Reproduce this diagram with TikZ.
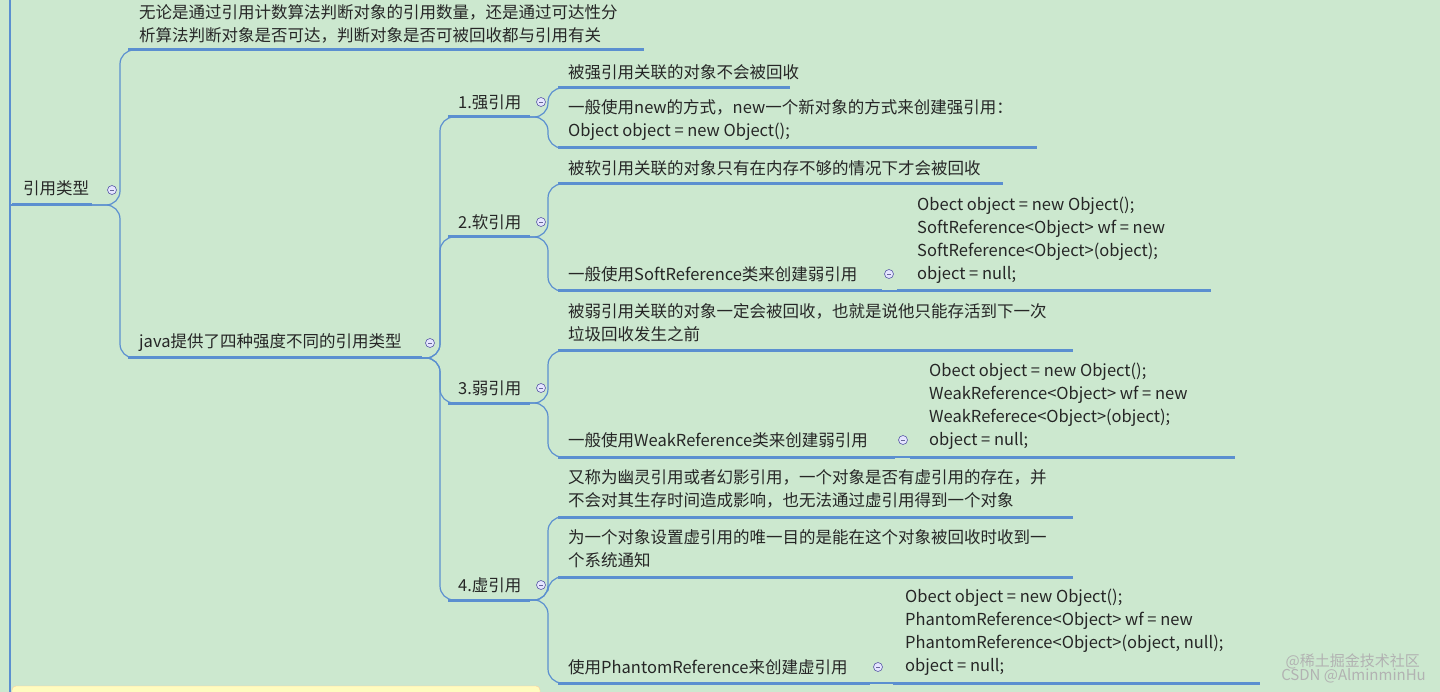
\documentclass[tikz,border=0pt]{standalone}
\usepackage{fontspec}
\setmainfont{Noto Sans CJK SC}
\begin{document}
\begin{tikzpicture}[x=1pt,y=-1pt,
  txt/.style={anchor=west,inner sep=0pt,font=\fontsize{16.5}{23}\selectfont,text=black!85},
  ul/.style={draw=lineblue,line width=3pt},
  br/.style={draw=lineblue,line width=1.2pt,rounded corners=14pt},
  tog/.style={circle,draw=gray!70!blue,fill=white!90!blue,minimum size=9pt,inner sep=0pt,line width=0.6pt,
    path picture={\draw[gray!80!blue,line width=0.6pt] ([xshift=-2pt]path picture bounding box.center)--([xshift=2pt]path picture bounding box.center);}}]
\definecolor{bg}{HTML}{CCE8CF}
\definecolor{lineblue}{HTML}{5B8FD0}
\fill[bg] (0,0) rectangle (1440,692);
\useasboundingbox (0,0) rectangle (1440,692);
\fill[yellow!25,draw=orange!40,rounded corners=4pt] (12,686) rectangle (540,700);
\draw[lineblue,line width=1.2pt] (10,0) -- (10,692);
% helper: bracket
\newcommand{\brk}[5]{\draw[br] (#1,#2) -- (#3,#2) -- (#3,#4) -- (#5,#4);}
% root
\node[txt] (root) at (23,188) {引用类型};
\draw[ul] (12,205) -- (92,205);
\draw[lineblue,line width=1.2pt] (10,215) -- (10,205) -- (12,205);
\node[tog] (t0) at (112,190) {};
\brk{92}{205}{120}{50}{128}
\brk{92}{205}{120}{358}{128}
% level1
\node[txt,align=left] (a1) at (139,24) {无论是通过引用计数算法判断对象的引用数量，还是通过可达性分\\析算法判断对象是否可达，判断对象是否可被回收都与引用有关};
\draw[ul] (128,50) -- (644,50);
\node[txt] (a2) at (139,343) {java提供了四种强度不同的引用类型};
\draw[ul] (128,358) -- (422,358);
\node[tog] (t1) at (430,343) {};
\brk{422}{358}{440}{117}{448}
\brk{422}{358}{440}{237}{448}
\brk{422}{358}{440}{403}{448}
\brk{422}{358}{440}{600}{448}
% level2
\foreach \t/\y in {1.强引用/117,2.软引用/237,3.弱引用/403,4.虚引用/600}{
  \node[txt] at (458,\y-15) {\t};
  \draw[ul] (448,\y) -- (530,\y);
  \node[tog] at (541,\y-15) {};
}
\brk{530}{117}{548}{88}{558}
\brk{530}{117}{548}{148}{558}
\brk{530}{237}{548}{184}{558}
\brk{530}{237}{548}{291}{558}
\brk{530}{403}{548}{351}{558}
\brk{530}{403}{548}{457}{558}
\brk{530}{600}{548}{517}{558}
\brk{530}{600}{548}{577}{558}
\brk{530}{600}{548}{683}{558}
% strong
\node[txt] (s1) at (568,72) {被强引用关联的对象不会被回收};
\draw[ul] (558,88) -- (790,88);
\node[txt,align=left] (s2) at (568,120) {一般使用new的方式，new一个新对象的方式来创建强引用：\\Object object = new Object();};
\draw[ul] (558,148) -- (1037,148);
% soft
\node[txt] (f1) at (568,168) {被软引用关联的对象只有在内存不够的情况下才会被回收};
\draw[ul] (558,184) -- (1003,184);
\node[txt] (f2) at (568,274) {一般使用SoftReference类来创建弱引用};
\draw[ul] (558,291) -- (882,291);
\node[tog] at (889,274) {};
\draw[lineblue,line width=1.2pt] (882,291) -- (897,291);
\node[txt,align=left] (f3) at (917,240) {Obect object = new Object();\\SoftReference<Object> wf = new\\SoftReference<Object>(object);\\object = null;};
\draw[ul] (897,291) -- (1211,291);
% weak
\node[txt,align=left] (w1) at (568,323) {被弱引用关联的对象一定会被回收，也就是说他只能存活到下一次\\垃圾回收发生之前};
\draw[ul] (558,351) -- (1073,351);
\node[txt] (w2) at (568,440) {一般使用WeakReference类来创建弱引用};
\draw[ul] (558,457) -- (895,457);
\node[tog] at (903,440) {};
\draw[lineblue,line width=1.2pt] (895,457) -- (910,457);
\node[txt,align=left] (w3) at (929,406) {Obect object = new Object();\\WeakReference<Object> wf = new\\WeakReferece<Object>(object);\\object = null;};
\draw[ul] (910,457) -- (1235,457);
% phantom
\node[txt,align=left] (p1) at (568,489) {又称为幽灵引用或者幻影引用，一个对象是否有虚引用的存在，并\\不会对其生存时间造成影响，也无法通过虚引用得到一个对象};
\draw[ul] (558,517) -- (1073,517);
\node[txt,align=left] (p2) at (568,549) {为一个对象设置虚引用的唯一目的是能在这个对象被回收时收到一\\个系统通知};
\draw[ul] (558,577) -- (1073,577);
\node[txt] (p3) at (568,667) {使用PhantomReference来创建虚引用};
\draw[ul] (558,683) -- (870,683);
\node[tog] at (878,667) {};
\draw[lineblue,line width=1.2pt] (870,683) -- (893,683);
\node[txt,align=left] (p4) at (905,632) {Obect object = new Object();\\PhantomReference<Object> wf = new\\PhantomReference<Object>(object, null);\\object = null;};
\draw[ul] (893,683) -- (1260,683);
% watermark
\node[anchor=east,inner sep=0pt,text=gray!60,font=\fontsize{15}{17}\selectfont] (wm1) at (1420,661) {@稀土掘金技术社区};
\node[anchor=east,inner sep=0pt,text=gray!60,font=\fontsize{15}{17}\selectfont] (wm2) at (1426,676) {CSDN @AlminminHu};
\end{tikzpicture}
\end{document}
